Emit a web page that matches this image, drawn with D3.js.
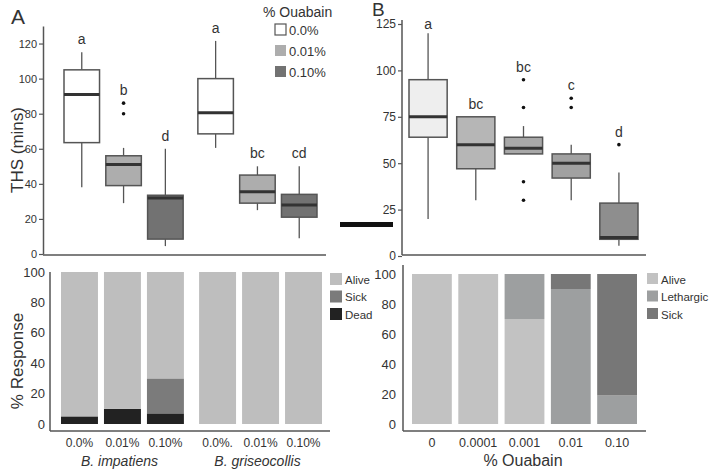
<!DOCTYPE html>
<html>
<head>
<meta charset="utf-8">
<script src="https://cdn.jsdelivr.net/npm/d3@7"></script>
<style>
  body { margin: 0; background: #fff; }
  text { font-family: "Liberation Sans", Arial, sans-serif; fill: #333; }
</style>
</head>
<body>
<svg id="chart" width="709" height="470"></svg>
<script>
// ---- Panel A (top): THS box plots by species and ouabain
const speciesA = ["B. impatiens", "B. griseocollis"];
const concA = ["0.0%", "0.01%", "0.10%"];
const concLabelsA = ["0.0%", "0.01%", "0.10%", "0.0%.", "0.01%", "0.10%"];
const loA = [38, 29, 4.5, 60.5, 25, 9];
const q1A = [63.5, 39, 8.5, 68.5, 29, 21];
const medA = [91, 51, 32, 80.5, 35.5, 28];
const q3A = [105, 56, 33.5, 100, 45, 34];
const hiA = [115, 60.5, 60, 121.5, 50, 50];
const outA = [[], [80, 86], [], [], [], []];
const lettersA = ["a", "b", "d", "a", "bc", "cd"];
const boxFillA = ["#ffffff", "#adadad", "#727272"];

// ---- Panel B (top): THS box plots by ouabain dose
const concB = ["0", "0.0001", "0.001", "0.01", "0.10"];
const loB = [20, 30, 55, 30, 5.5];
const q1B = [64, 47, 55, 42, 9];
const medB = [75, 60, 58, 50, 10];
const q3B = [95, 75, 64, 55, 28.5];
const hiB = [120, 75, 70, 60, 45];
const outB = [[], [], [95, 80, 40, 30], [80, 85], [60]];
const lettersB = ["a", "bc", "bc", "c", "d"];
const boxFillB = ["#eeeeee", "#b6b6b6", "#a8a8a8", "#a1a1a1", "#8e8e8e"];

// ---- Panel A (bottom): % response
const aliveA = [95, 90, 70, 100, 100, 100];
const sickA = [0, 0, 23, 0, 0, 0];
const deadA = [5, 10, 7, 0, 0, 0];
const respKeysA = ["Alive", "Sick", "Dead"];
const respColorsA = ["#bebebe", "#7b7b7b", "#222222"];

// ---- Panel B (bottom): % response
const aliveB = [100, 100, 70, 0, 0];
const lethargicB = [0, 0, 30, 90, 19];
const sickB = [0, 0, 0, 10, 81];
const respKeysB = ["Alive", "Lethargic", "Sick"];
const respColorsB = ["#c2c2c2", "#9d9fa0", "#777777"];

const svg = d3.select("#chart");
const axisColor = "#555";

function styleAxis(g, fontSize) {
  g.selectAll("path.domain").attr("stroke", axisColor).attr("stroke-width", 1.5);
  g.selectAll(".tick line").attr("stroke", axisColor).attr("stroke-width", 1.2);
  g.selectAll("text")
    .style("font-family", "'Liberation Sans', Arial, sans-serif")
    .style("font-size", fontSize + "px")
    .attr("fill", "#333");
}

function drawBoxes(g, xPos, bw, y, lo, q1, med, q3, hi, outs, letters, fills, letterMin) {
  lo.forEach((_, i) => {
    const cx = xPos(i) + bw / 2;
    // whiskers
    g.append("line").attr("x1", cx).attr("x2", cx)
      .attr("y1", y(hi[i])).attr("y2", y(q3[i]))
      .attr("stroke", axisColor).attr("stroke-width", 1.3);
    g.append("line").attr("x1", cx).attr("x2", cx)
      .attr("y1", y(q1[i])).attr("y2", y(lo[i]))
      .attr("stroke", axisColor).attr("stroke-width", 1.3);
    g.append("rect")
      .attr("x", xPos(i)).attr("width", bw)
      .attr("y", y(q3[i])).attr("height", y(q1[i]) - y(q3[i]))
      .attr("fill", fills[i]).attr("stroke", axisColor).attr("stroke-width", 1.5);
    g.append("line").attr("x1", xPos(i)).attr("x2", xPos(i) + bw)
      .attr("y1", y(med[i])).attr("y2", y(med[i]))
      .attr("stroke", "#333").attr("stroke-width", 3);
    outs[i].forEach(v => {
      g.append("circle").attr("cx", cx).attr("cy", y(v)).attr("r", 1.8).attr("fill", "#111");
    });
    const top = d3.max([hi[i], q3[i], ...outs[i]]);
    g.append("text").attr("x", cx).attr("y", Math.max(y(top) - 8, letterMin))
      .attr("text-anchor", "middle").style("font-size", "14px").text(letters[i]);
  });
}

// ================= Panel A top =================
const yA = d3.scaleLinear().domain([0, 130]).range([254, 26]);
const xSpA = d3.scaleBand().domain(speciesA).range([64, 317]).paddingInner(0.11);
const xCA = d3.scaleBand().domain(concA).range([0, xSpA.bandwidth()]).paddingInner(0.15);
const posA = i => xSpA(speciesA[Math.floor(i / 3)]) + xCA(concA[i % 3]);

const gAy = svg.append("g").attr("transform", "translate(43,0)")
  .call(d3.axisLeft(yA).tickValues(d3.range(0, 121, 20)).tickSize(4).tickPadding(2).tickSizeOuter(0));
styleAxis(gAy, 11);
svg.append("line").attr("x1", 43).attr("x2", 326).attr("y1", 255).attr("y2", 255)
  .attr("stroke", axisColor).attr("stroke-width", 1.5);

drawBoxes(svg, posA, xCA.bandwidth(), yA, loA, q1A, medA, q3A, hiA, outA, lettersA,
  loA.map((_, i) => boxFillA[i % 3]), 0);

svg.append("text").attr("x", 11).attr("y", 24).style("font-size", "21px").text("A");
svg.append("text").attr("transform", "translate(23,150) rotate(-90)")
  .attr("text-anchor", "middle").style("font-size", "17px").text("THS (mins)");

// legend
const legTop = svg.append("g");
legTop.append("text").attr("x", 263).attr("y", 17).style("font-size", "14px").text("% Ouabain");
concA.forEach((c, i) => {
  legTop.append("rect").attr("x", 275).attr("y", 24 + i * 21).attr("width", 11).attr("height", 11)
    .attr("fill", boxFillA[i]).attr("stroke", i === 0 ? axisColor : "none").attr("stroke-width", 1.2);
  legTop.append("text").attr("x", 289).attr("y", 34.5 + i * 21).style("font-size", "13px").text(c);
});

// separator bar
svg.append("line").attr("x1", 340).attr("x2", 393).attr("y1", 224.5).attr("y2", 224.5)
  .attr("stroke", "#111").attr("stroke-width", 5);

// ================= Panel B top =================
const yB = d3.scaleLinear().domain([0, 125]).range([256, 24]);
const xB = d3.scaleBand().domain(concB).range([409, 638]).paddingInner(0.2);
const posB = i => xB(concB[i]);

const gBy = svg.append("g").attr("transform", "translate(402,0)")
  .call(d3.axisLeft(yB).tickValues(d3.range(0, 126, 25)).tickSize(4).tickPadding(2).tickSizeOuter(0));
gBy.select("path.domain").attr("d", "M0,20V255");
styleAxis(gBy, 12);
svg.append("line").attr("x1", 402).attr("x2", 646).attr("y1", 255).attr("y2", 255)
  .attr("stroke", axisColor).attr("stroke-width", 1.5);

drawBoxes(svg, posB, xB.bandwidth(), yB, loB, q1B, medB, q3B, hiB, outB, lettersB, boxFillB, 29);

svg.append("text").attr("x", 372).attr("y", 16).style("font-size", "19px").text("B");

// ================= Panel A bottom =================
const yRA = d3.scaleLinear().domain([0, 100]).range([424, 272]);
const xSpRA = d3.scaleBand().domain(speciesA).range([61, 322]).paddingInner(0.11);
const xCRA = d3.scaleBand().domain(concA).range([0, xSpRA.bandwidth()]).paddingInner(0.14);
const posRA = i => xSpRA(speciesA[Math.floor(i / 3)]) + xCRA(concA[i % 3]);

const rowsA = aliveA.map((d, i) => ({ i: i, Alive: aliveA[i], Sick: sickA[i], Dead: deadA[i] }));
const stackA = d3.stack().keys(["Dead", "Sick", "Alive"])(rowsA);
const colA = d3.scaleOrdinal().domain(respKeysA).range(respColorsA);
stackA.forEach(layer => {
  svg.append("g").selectAll("rect").data(layer).join("rect")
    .attr("x", d => posRA(d.data.i)).attr("width", xCRA.bandwidth())
    .attr("y", d => yRA(d[1])).attr("height", d => yRA(d[0]) - yRA(d[1]))
    .attr("fill", colA(layer.key));
});

const gRAy = svg.append("g").attr("transform", "translate(50,0)")
  .call(d3.axisLeft(yRA).ticks(5).tickSize(0).tickPadding(5));
gRAy.select("path.domain").attr("d", "M0,272V431");
styleAxis(gRAy, 13);
svg.append("line").attr("x1", 50).attr("x2", 330).attr("y1", 431).attr("y2", 431)
  .attr("stroke", axisColor).attr("stroke-width", 1.5);

concLabelsA.forEach((t, i) => {
  svg.append("text").attr("x", posRA(i) + xCRA.bandwidth() / 2).attr("y", 447)
    .attr("text-anchor", "middle").style("font-size", "12px").text(t);
});
speciesA.forEach(s => {
  svg.append("text").attr("x", xSpRA(s) + xSpRA.bandwidth() / 2 - 3).attr("y", 466)
    .attr("text-anchor", "middle").style("font-size", "14px").style("font-style", "italic").text(s);
});
svg.append("text").attr("transform", "translate(23,361) rotate(-90)")
  .attr("text-anchor", "middle").style("font-size", "17px").text("% Response");

respKeysA.forEach((k, i) => {
  svg.append("rect").attr("x", 330).attr("y", 273 + i * 17.5).attr("width", 12).attr("height", 12)
    .attr("fill", respColorsA[i]);
  svg.append("text").attr("x", 345).attr("y", 283.5 + i * 17.5).style("font-size", "11.5px").text(k);
});

// ================= Panel B bottom =================
const yRB = d3.scaleLinear().domain([0, 100]).range([424, 274]);
const xRB = d3.scaleBand().domain(concB).range([412, 637]).paddingInner(0.14);

const rowsB = concB.map((c, i) => ({ c: c, Alive: aliveB[i], Lethargic: lethargicB[i], Sick: sickB[i] }));
const stackB = d3.stack().keys(respKeysB)(rowsB);
const colB = d3.scaleOrdinal().domain(respKeysB).range(respColorsB);
stackB.forEach(layer => {
  svg.append("g").selectAll("rect").data(layer).join("rect")
    .attr("x", d => xRB(d.data.c)).attr("width", xRB.bandwidth())
    .attr("y", d => yRB(d[1])).attr("height", d => yRB(d[0]) - yRB(d[1]))
    .attr("fill", colB(layer.key));
});

const gRBy = svg.append("g").attr("transform", "translate(403,0)")
  .call(d3.axisLeft(yRB).ticks(5).tickSize(0).tickPadding(7));
gRBy.select("path.domain").attr("d", "M0,265V431");
styleAxis(gRBy, 13);
svg.append("line").attr("x1", 403).attr("x2", 646).attr("y1", 431).attr("y2", 431)
  .attr("stroke", axisColor).attr("stroke-width", 1.5);

concB.forEach(c => {
  svg.append("text").attr("x", xRB(c) + xRB.bandwidth() / 2).attr("y", 447)
    .attr("text-anchor", "middle").style("font-size", "12.5px").text(c);
});
svg.append("text").attr("x", 523).attr("y", 466).attr("text-anchor", "middle")
  .style("font-size", "16px").text("% Ouabain");

respKeysB.forEach((k, i) => {
  svg.append("rect").attr("x", 647).attr("y", 273 + i * 17.5).attr("width", 11).attr("height", 11)
    .attr("fill", respColorsB[i]);
  svg.append("text").attr("x", 661).attr("y", 283.5 + i * 17.5).style("font-size", "11.5px").text(k);
});
</script>
</body>
</html>
